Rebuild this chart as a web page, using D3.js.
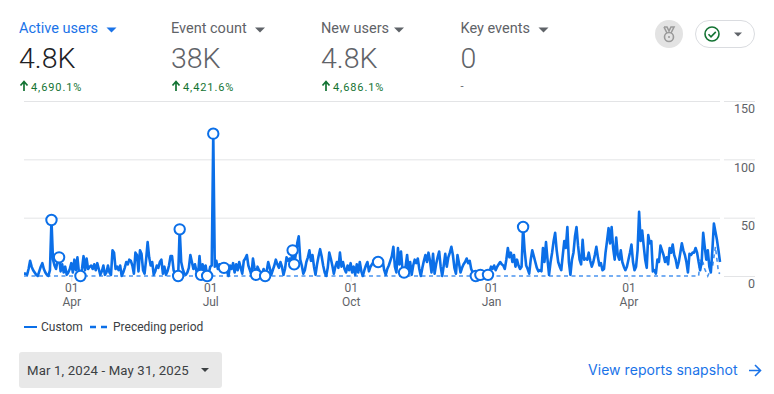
<!DOCTYPE html>
<html><head><meta charset="utf-8">
<script src="https://cdn.jsdelivr.net/npm/d3@7"></script>
<style>
html,body{margin:0;padding:0;background:#fff;}
svg{display:block;font-family:Roboto,"Noto Sans",sans-serif;}
</style></head><body>
<svg id="c" width="774" height="394"></svg>
<script>
const metricNames = ["Active users","Event count","New users","Key events"];
const metricValues = ["4.8K","38K","4.8K","0"];
const metricDeltas = ["4,690.1%","4,421.6%","4,686.1%","-"];
const yTicks = [0,50,100,150];
const xTickDates = [[2024,3,"Apr"],[2024,6,"Jul"],[2024,9,"Oct"],[2025,0,"Jan"],[2025,3,"Apr"]];
const legendLabels = ["Custom","Preceding period"];
const dateRangeLabel = "Mar 1, 2024 - May 31, 2025";
const linkLabel = "View reports snapshot";
const startDate = new Date(2024,2,1);
const customValues = [
2,2,1,6,13,8,5,3,1,0,
4,8,11,6,3,1,0,5,48,14,
9,6,13,16,4,10,3,8,1,3,
6,11,3,14,5,16,3,0,6,17,
5,15,6,8,9,6,10,5,11,6,
1,4,9,1,3,9,3,1,22,20,
6,8,5,9,0,3,7,12,10,14,
13,9,2,20,18,4,22,19,5,2,
14,29,16,9,12,1,4,9,7,12,
14,2,8,1,4,9,17,17,5,1,
3,0,40,12,6,2,1,3,7,18,
12,6,10,4,1,17,1,10,5,9,
0,2,8,9,122,8,13,6,10,7,
10,7,8,4,0,9,6,11,3,10,
5,12,7,2,13,15,18,9,5,1,
15,7,1,8,5,3,2,6,0,4,
12,7,1,5,9,14,10,7,12,8,
1,6,16,13,15,12,22,10,18,28,
34,14,9,2,5,12,16,22,13,18,
8,1,10,17,23,17,9,3,0,7,
20,15,9,2,8,12,7,20,8,12,
6,3,9,5,11,3,8,1,10,3,
12,4,0,5,9,12,4,8,10,12,
10,13,12,15,9,13,5,1,6,9,
13,17,25,8,3,24,10,21,5,3,
8,18,5,12,1,9,14,11,15,6,
0,7,13,18,12,20,13,3,19,2,
10,16,21,8,0,9,19,8,16,20,
25,18,7,2,18,11,3,7,10,12,
15,11,13,6,3,1,0,2,3,1,
2,4,3,1,1,4,8,6,9,5,
8,10,12,10,9,6,14,24,16,20,
12,18,8,14,9,6,8,42,22,9,
6,2,14,22,17,12,7,4,5,4,
24,12,29,14,1,12,20,30,37,22,
12,8,5,18,30,24,42,12,1,14,
20,34,42,26,14,10,31,14,15,14,
20,13,8,12,18,25,16,9,11,5,
6,20,30,41,28,42,24,14,33,18,
14,22,12,8,5,8,14,20,27,12,
5,8,22,55,30,39,26,14,7,35,
28,30,4,5,2,14,12,26,22,18,
12,16,10,24,20,27,18,14,7,12,
20,28,22,18,12,3,19,18,20,20,
24,20,12,5,12,37,25,14,22,8,
3,22,45,38,31,22,12];
const precedingTail = [0,14,9,11,6,3,0,3,8,7,16,25,14,3,2];
const markerDays = [18,23,37,101,102,116,120,124,131,152,158,176,177,232,249,296,299,304,327];

const blue="#0b6fe8", labelBlue="#1a73e8", grey="#5f6368", green="#137333", gridC="#e3e4e6";
const precedingValues = customValues.map((_,i)=>{
  const k=i-(customValues.length-precedingTail.length);
  return k>=0?precedingTail[k]:0;
});
const dayOf = i => d3.timeDay.offset(startDate,i);
const x = d3.scaleTime().domain([startDate,dayOf(customValues.length-1)]).range([24,720]);
const y = d3.scaleLinear().domain([0,150]).range([276,101]);
const svg = d3.select("#c");

// header metrics
const metricX=[19,171,321,460.5], arrowX=[111.5,260,399,543.5];
metricNames.forEach((n,i)=>{
  const c=i===0?labelBlue:grey;
  svg.append("text").attr("x",metricX[i]).attr("y",33).attr("font-size",14.5).attr("fill",c).text(n);
  tri(arrowX[i],27.5,c,5);
  svg.append("text").attr("x",metricX[i]).attr("y",68).attr("font-size",28.5).attr("font-weight",300).attr("fill",i===0?"#202124":grey).text(metricValues[i]);
  if(i<3){
    const ax=metricX[i]+5;
    svg.append("path").attr("d",`M${ax-3.5} 85.5L${ax} 81.5L${ax+3.5} 85.5M${ax} 82V91`).attr("stroke",green).attr("stroke-width",1.7).attr("fill","none");
    svg.append("text").attr("x",metricX[i]+12).attr("y",91).attr("font-size",11).attr("letter-spacing",".9").attr("fill",green).text(metricDeltas[i]);
  } else {
    svg.append("text").attr("x",metricX[i]).attr("y",90).attr("font-size",11).attr("fill",grey).text(metricDeltas[i]);
  }
});
function tri(cx,top,c,hw){
  svg.append("path").attr("d",`M${cx-hw} ${top}H${cx+hw}L${cx} ${top+hw}Z`).attr("fill",c);
}

// medal + status pill
svg.append("circle").attr("cx",669).attr("cy",34).attr("r",14).attr("fill","#e3e3e3");
svg.append("path").attr("d","M664 27h3l2 4 2-4h3l-3 6").attr("fill","none").attr("stroke","#9a9a9a").attr("stroke-width",1.6);
svg.append("path").attr("d","M664 27l3 6").attr("stroke","#9a9a9a").attr("stroke-width",1.6);
svg.append("circle").attr("cx",669).attr("cy",37).attr("r",4.5).attr("fill","none").attr("stroke","#9a9a9a").attr("stroke-width",1.6);
svg.append("circle").attr("cx",669).attr("cy",37).attr("r",1).attr("fill","#9a9a9a");
svg.append("rect").attr("x",695.5).attr("y",20.5).attr("width",59).attr("height",27).attr("rx",13.5).attr("fill","#fff").attr("stroke","#dadce0");
svg.append("circle").attr("cx",712).attr("cy",34).attr("r",7).attr("fill","none").attr("stroke",green).attr("stroke-width",1.6);
svg.append("path").attr("d","M708.5 34.3l2.5 2.6 4.8-5").attr("fill","none").attr("stroke",green).attr("stroke-width",1.6);
tri(738,32.5,grey,4);

// grid
yTicks.forEach(t=>{
  if(t>0) svg.append("line").attr("x1",24).attr("x2",720).attr("y1",y(t)+.5).attr("y2",y(t)+.5).attr("stroke",gridC);
  svg.append("line").attr("x1",724).attr("x2",755).attr("y1",y(t)+.5).attr("y2",y(t)+.5).attr("stroke",gridC);
});

// axes
const yAxis = d3.axisRight(y).tickValues(yTicks).tickSize(0);
const gy = svg.append("g").attr("transform","translate(755,0)").call(yAxis);
gy.select(".domain").remove();
gy.selectAll("text").attr("x",0).attr("text-anchor","end").attr("font-size",12.5).attr("font-family","Roboto").attr("fill",grey).attr("dy","0.95em");

const tickDates = xTickDates.map(d=>new Date(d[0],d[1],1));
const xAxis = d3.axisBottom(x).tickValues(tickDates).tickFormat(d3.timeFormat("%d")).tickSize(5);
const gx = svg.append("g").attr("transform","translate(0,276.5)").call(xAxis);
gx.select(".domain").remove();
gx.selectAll("line").attr("stroke",gridC);
gx.selectAll("text").attr("y",6.5).attr("dy","0.71em").attr("font-size",12).attr("font-family","Roboto").attr("fill",grey);
gx.selectAll(".tick").append("text").attr("y",20.5).attr("dy","0.71em").attr("text-anchor","middle")
  .attr("font-size",12).attr("font-family","Roboto").attr("fill",grey).text((d,i)=>xTickDates[i][2]);

// lines
const line = d3.line().x((d,i)=>x(dayOf(i))).y(d=>y(d));
svg.append("path").datum(precedingValues).attr("d",line).attr("fill","none").attr("stroke",blue)
  .attr("stroke-opacity",.75).attr("stroke-width",1.6).attr("stroke-dasharray","4 3.5");
svg.append("path").datum(customValues).attr("d",line).attr("fill","none").attr("stroke",blue)
  .attr("stroke-width",2.6).attr("stroke-linejoin","round");

// markers
svg.selectAll("circle.m").data(markerDays).join("circle").attr("class","m")
  .attr("cx",d=>x(dayOf(d))).attr("cy",d=>y(customValues[d])).attr("r",5.2)
  .attr("fill","#fff").attr("stroke",blue).attr("stroke-width",2);

// legend
svg.append("line").attr("x1",24).attr("x2",37).attr("y1",327).attr("y2",327).attr("stroke",blue).attr("stroke-width",2);
svg.append("text").attr("x",41).attr("y",331).attr("font-size",12).attr("fill","#3c4043").text(legendLabels[0]);
svg.append("line").attr("x1",90).attr("x2",107).attr("y1",327).attr("y2",327).attr("stroke",blue).attr("stroke-width",2.4).attr("stroke-dasharray","6 5");
svg.append("text").attr("x",113).attr("y",331).attr("font-size",12).attr("fill","#3c4043").text(legendLabels[1]);

// date button
svg.append("rect").attr("x",19).attr("y",352).attr("width",203).attr("height",36).attr("rx",3).attr("fill","#e8e8e8");
svg.append("text").attr("x",27).attr("y",375).attr("font-size",13.2).attr("letter-spacing",".15").attr("fill","#3c4043").text(dateRangeLabel);
tri(205,368,"#3c4043",4);

// link
svg.append("text").attr("x",588).attr("y",375).attr("font-size",14).attr("letter-spacing",".05").attr("font-family","Inter,Roboto").attr("fill",labelBlue).text(linkLabel);
svg.append("path").attr("d","M749 370.5H760M755 365l5.5 5.5-5.5 5.5").attr("fill","none").attr("stroke",labelBlue).attr("stroke-width",1.6);
</script>
</body></html>
